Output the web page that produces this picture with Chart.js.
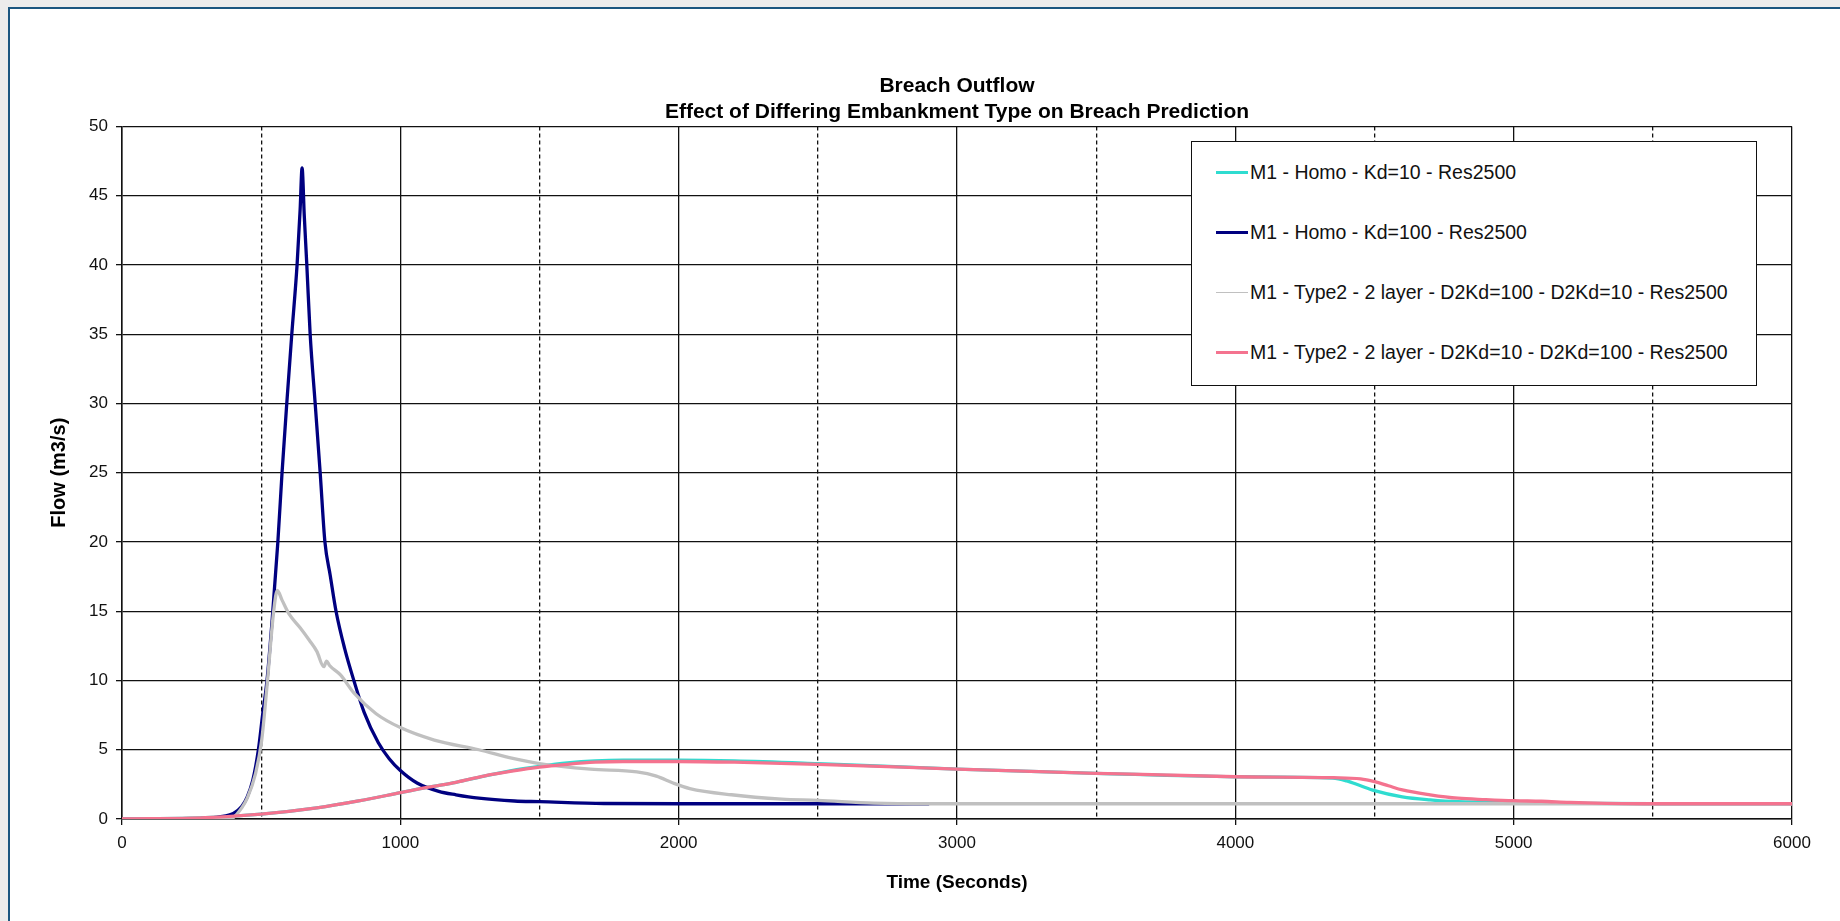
<!DOCTYPE html>
<html>
<head>
<meta charset="utf-8">
<title>Breach Outflow</title>
<script src="https://cdn.jsdelivr.net/npm/chart.js@4/dist/chart.umd.min.js"></script>
<style>
  body {
    margin: 0;
    width: 1840px;
    height: 921px;
    overflow: hidden;
    background: #ececec;
    font-family: "Liberation Sans", Arial, sans-serif;
  }
  .frame {
    position: absolute;
    left: 8px;
    top: 7px;
    width: 1840px;
    height: 921px;
    background: #fff;
    border-left: 2px solid #1b5680;
    border-top: 2px solid #1b5680;
  }
  #chart {
    position: absolute;
    left: 0;
    top: 0;
  }
  .legend {
    position: absolute;
    left: 1191px;
    top: 141px;
    width: 564px;
    height: 243px;
    background: #fff;
    border: 1.5px solid #111;
  }
  .legend .row {
    position: absolute;
    left: 24px;
    height: 22px;
    display: flex;
    align-items: center;
    font-size: 19.5px;
    color: #111;
    white-space: nowrap;
  }
  .legend .swatch {
    width: 32px;
    margin-right: 2px;
  }
</style>
</head>
<body>
<div class="frame"></div>
<canvas id="chart" width="1840" height="921"></canvas>
<div class="legend"></div>

<script>
// series: time (s) and flow (m3/s)
const timeKd10 = [0, 300, 500, 700, 850, 1000, 1100, 1200, 1300, 1400, 1500, 1600, 1700, 1800, 2000, 2200, 2500, 3000, 3500, 4000, 4350, 4400, 4450, 4500, 4600, 4700, 4800, 5000, 5200, 5500, 6000];
const flowKd10 = [0, 0.1, 0.35, 0.8, 1.3, 1.9, 2.3, 2.65, 3.1, 3.5, 3.8, 4.05, 4.2, 4.25, 4.25, 4.2, 4.0, 3.6, 3.3, 3.05, 2.95, 2.75, 2.4, 2.05, 1.6, 1.38, 1.25, 1.2, 1.15, 1.1, 1.1];

const timeKd100 = [0, 200, 300, 350, 400, 430, 450, 470, 490, 505, 521, 540, 560, 575, 592, 610, 629, 640, 647, 655, 664, 676, 694, 712, 729, 748, 769, 800, 833, 870, 921, 960, 1000, 1060, 1138, 1200, 1282, 1410, 1500, 1731, 2000, 2900];
const flowKd100 = [0, 0, 0.05, 0.15, 0.4, 0.9, 1.6, 2.8, 5, 7.5, 10, 14.5, 20, 25, 30, 35, 40, 44, 47, 43.5, 40, 35, 30, 25, 20, 17.6, 15, 12.3, 10, 7.7, 5.5, 4.35, 3.5, 2.6, 2.0, 1.75, 1.5, 1.3, 1.25, 1.12, 1.1, 1.1];

const timeD2Kd100 = [0, 380, 400, 430, 450, 480, 502, 521, 545, 558, 575, 600, 640, 673, 700, 725, 735, 745, 785, 833, 913, 1000, 1122, 1282, 1400, 1500, 1683, 1850, 1920, 1980, 2040, 2190, 2370, 2500, 2700, 2900, 6000];
const flowD2Kd100 = [0, 0, 0.1, 0.8, 1.5, 3.3, 5.7, 9.6, 15, 16.5, 15.8, 14.8, 13.8, 12.9, 12.1, 11.0, 11.4, 11.1, 10.4, 9.1, 7.6, 6.6, 5.7, 5.0, 4.4, 4.0, 3.6, 3.4, 3.1, 2.6, 2.2, 1.75, 1.44, 1.35, 1.15, 1.1, 1.1];

const timeD2Kd10 = [0, 300, 500, 700, 850, 1000, 1100, 1200, 1300, 1400, 1500, 1600, 1700, 1800, 2000, 2200, 2500, 3000, 3500, 4000, 4350, 4450, 4500, 4550, 4600, 4700, 4800, 4900, 5000, 5100, 5200, 5300, 5500, 6000];
const flowD2Kd10 = [0, 0.1, 0.35, 0.8, 1.3, 1.9, 2.3, 2.65, 3.1, 3.45, 3.75, 3.95, 4.1, 4.15, 4.15, 4.1, 3.95, 3.6, 3.3, 3.05, 2.98, 2.9, 2.7, 2.4, 2.1, 1.75, 1.5, 1.4, 1.32, 1.28, 1.2, 1.15, 1.1, 1.1];

const seriesNames = [
  "M1 - Homo - Kd=10 - Res2500",
  "M1 - Homo - Kd=100 - Res2500",
  "M1 - Type2 - 2 layer - D2Kd=100 - D2Kd=10 - Res2500",
  "M1 - Type2 - 2 layer - D2Kd=10 - D2Kd=100 - Res2500"
];
const seriesColors = ["#2fdcd0", "#000080", "#c0c0c0", "#f4738f"];
const swatchWidths = [3, 3, 1.5, 3];

function pts(t, q) {
  return t.map((x, i) => ({ x: x, y: q[i] }));
}

Chart.defaults.font.family = '"Liberation Sans", Arial, sans-serif';
Chart.defaults.color = "#111";

const seriesData = [
  pts(timeKd10, flowKd10),
  pts(timeKd100, flowKd100),
  pts(timeD2Kd100, flowD2Kd100),
  pts(timeD2Kd10, flowD2Kd10)
];

// later series sit on top, like the spreadsheet did it
const datasets = seriesData.map((d, i) => ({
  label: seriesNames[i],
  data: d,
  borderColor: seriesColors[i],
  backgroundColor: seriesColors[i],
  borderWidth: 3.3,
  pointRadius: 0,
  cubicInterpolationMode: "monotone",
  fill: false,
  order: 4 - i
}));

const plain = function (v) { return String(v); };

const ctx = document.getElementById("chart");
const chart = new Chart(ctx, {
  type: "line",
  data: { datasets: datasets },
  options: {
    responsive: false,
    animation: false,
    layout: { padding: { left: 0, right: 48, top: 0, bottom: 0 } },
    plugins: {
      legend: { display: false },
      tooltip: { enabled: false },
      title: {
        display: true,
        text: "Breach Outflow",
        color: "#000",
        fullSize: false,
        font: { size: 21, weight: "bold" },
        padding: { top: 74, bottom: 0 }
      },
      subtitle: {
        display: true,
        text: "Effect of Differing Embankment Type on Breach Prediction",
        color: "#000",
        fullSize: false,
        font: { size: 21, weight: "bold" },
        padding: { top: 0, bottom: 2 }
      }
    },
    scales: {
      x: {
        type: "linear",
        min: 0,
        max: 6000,
        ticks: { stepSize: 1000, padding: 8, font: { size: 17 }, color: "#111", callback: plain },
        grid: { color: "#111", lineWidth: 1.3, tickLength: 6, tickColor: "#111" },
        border: { color: "#111", width: 1.5 },
        title: {
          display: true,
          text: "Time (Seconds)",
          color: "#000",
          font: { size: 19, weight: "bold" },
          padding: { top: 0, bottom: 27 }
        },
        afterFit: function (s) { s.height = 102; }
      },
      // half-way lines (500, 1500, ...) are dashed
      x2: {
        type: "linear",
        position: "bottom",
        min: 0,
        max: 6000,
        ticks: { stepSize: 500, display: false },
        grid: {
          drawTicks: false,
          lineWidth: 1.3,
          color: function (c) {
            return c.tick && c.tick.value % 1000 === 500 ? "#111" : "rgba(0,0,0,0)";
          }
        },
        border: { display: false, dash: [4, 3] },
        afterFit: function (s) { s.height = 0; }
      },
      y: {
        min: 0,
        max: 50,
        ticks: { stepSize: 5, padding: 8, font: { size: 17 }, color: "#111", callback: plain },
        grid: { color: "#111", lineWidth: 1.3, tickLength: 6, tickColor: "#111" },
        border: { color: "#111", width: 1.5 },
        title: {
          display: true,
          text: "Flow (m3/s)",
          color: "#000",
          font: { size: 20, weight: "bold" },
          padding: { top: 47, bottom: 0 }
        },
        afterFit: function (s) { s.width = 122; }
      }
    }
  }
});

// legend box inside the plot, top right
const legendBox = document.querySelector(".legend");
chart.data.datasets.forEach(function (ds, i) {
  const row = document.createElement("div");
  row.className = "row";
  row.style.top = (19 + i * 60) + "px";
  const sw = document.createElement("span");
  sw.className = "swatch";
  sw.style.borderTop = swatchWidths[i] + "px solid " + ds.borderColor;
  const txt = document.createElement("span");
  txt.textContent = ds.label;
  row.appendChild(sw);
  row.appendChild(txt);
  legendBox.appendChild(row);
});
</script>
</body>
</html>
